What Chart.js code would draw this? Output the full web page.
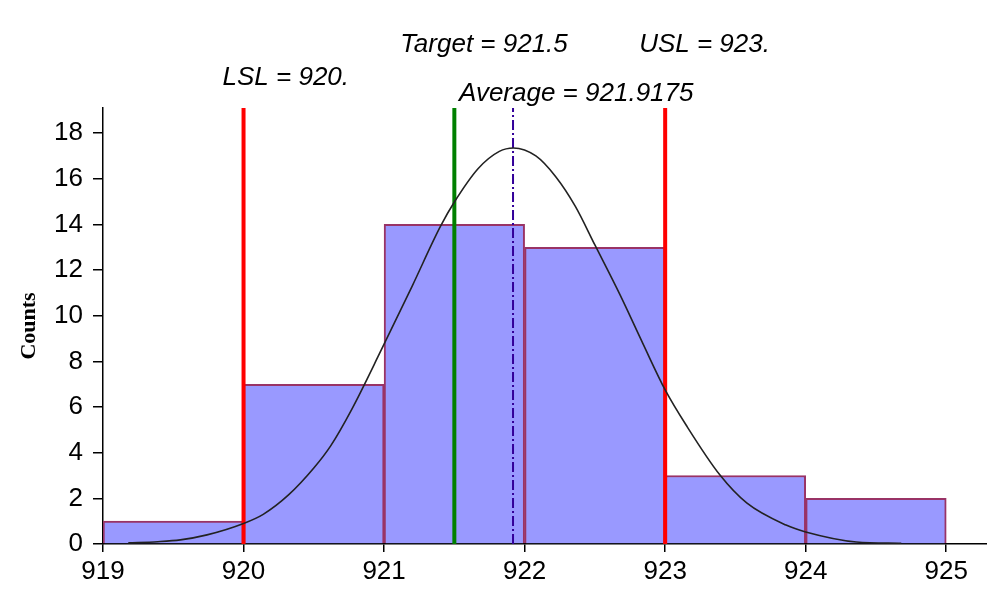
<!DOCTYPE html>
<html>
<head>
<meta charset="utf-8">
<script src="https://cdn.jsdelivr.net/npm/chart.js@4/dist/chart.umd.min.js"></script>
<style>
  html, body { margin: 0; padding: 0; background: #ffffff; }
  #wrap { width: 987px; height: 589px; }
</style>
</head>
<body>
<div id="wrap"><canvas id="hist" width="987" height="589"></canvas></div>
<script>
// Histogram bins (centres, width 1) and counts
const binCenters = [919.5, 920.5, 921.5, 922.5, 923.5, 924.5];
const binCounts  = [1, 7, 14, 13, 3, 2];

// Fitted distribution curve, sampled points
const curveX = [919.18, 919.39, 919.55, 919.74, 920.0, 920.14, 920.32, 920.5, 920.62, 920.77,
                920.98, 921.2, 921.4, 921.5, 921.67, 921.82, 921.92, 922.08, 922.22, 922.36,
                922.5, 922.68, 922.84, 923.0, 923.15, 923.39, 923.58, 923.86, 924.0, 924.36, 924.68];
const curveY = [0.05, 0.1, 0.18, 0.4, 0.9, 1.3, 2.15, 3.33, 4.3, 5.9,
                8.5, 11.3, 13.9, 14.98, 16.45, 17.2, 17.35, 17.0, 16.1, 14.8,
                13.1, 10.9, 8.8, 6.75, 5.2, 3.02, 1.8, 0.83, 0.53, 0.09, 0.03];

// Specification limits, target and mean
const lsl = 920;
const usl = 923;
const target = 921.5;
const average = 921.9175;
const specLabels = ['LSL = 920.', 'Target = 921.5', 'USL = 923.', 'Average = 921.9175'];

// Axis ranges and tick labels
const xMin = 919, xMax = 925.29;
const yMin = 0, yMax = 19.1;
const xTickValues = [919, 920, 921, 922, 923, 924, 925];
const yTickValues = [0, 2, 4, 6, 8, 10, 12, 14, 16, 18];
const yTitle = 'Counts';

const TICK_FONT = { family: '"Liberation Sans", Arial, sans-serif', size: 26 };

function vline(value, color, width, dash) {
  return {
    type: 'line',
    data: [{ x: value, y: yMin }, { x: value, y: yMax }],
    borderColor: color,
    borderWidth: width,
    borderDash: dash || [],
    pointRadius: 0,
    tension: 0,
    order: 5
  };
}

const labelPlugin = {
  id: 'specLabels',
  afterDraw(chart) {
    const ctx = chart.ctx;
    const xs = chart.scales.x;
    const vals = [lsl, target, usl, average];
    // horizontal offset from the marker line, and text baseline
    const place = [[-21, 85], [-54, 52], [-26, 52], [-54, 101]];
    ctx.save();
    ctx.fillStyle = '#000000';
    ctx.font = 'italic 26px "Liberation Sans", Arial, sans-serif';
    ctx.textAlign = 'left';
    ctx.textBaseline = 'alphabetic';
    specLabels.forEach((t, i) => {
      ctx.fillText(t, xs.getPixelForValue(vals[i]) + place[i][0], place[i][1]);
    });
    ctx.restore();
  }
};

new Chart(document.getElementById('hist'), {
  data: {
    datasets: [
      {
        type: 'line',
        data: curveX.map((x, i) => ({ x, y: curveY[i] })),
        borderColor: '#222222',
        borderWidth: 1.6,
        pointRadius: 0,
        cubicInterpolationMode: 'monotone',
        order: 1
      },
      vline(lsl, '#ff0000', 4),
      vline(usl, '#ff0000', 4),
      vline(target, '#008000', 4),
      vline(average, '#330099', 2, [10, 3, 2, 3]),
      {
        type: 'bar',
        data: binCenters.map((x, i) => ({ x, y: binCounts[i] })),
        backgroundColor: '#9999ff',
        borderColor: '#993366',
        borderWidth: 2,
        borderSkipped: 'start',
        barPercentage: 1,
        categoryPercentage: 1,
        order: 10
      }
    ]
  },
  options: {
    responsive: false,
    animation: false,
    events: [],
    layout: { padding: { top: 108, right: 0, bottom: 0, left: 0 } },
    plugins: { legend: { display: false }, tooltip: { enabled: false } },
    scales: {
      x: {
        type: 'linear',
        offset: false,
        min: xMin,
        max: xMax,
        ticks: { stepSize: 1, color: '#000000', font: TICK_FONT, padding: 4, maxRotation: 0, autoSkip: false },
        afterBuildTicks(s) { s.ticks = xTickValues.map(v => ({ value: v })); },
        afterFit(s) { s.height = 45; },
        grid: { offset: false, drawOnChartArea: false, drawTicks: true, tickLength: 8, color: '#000000', lineWidth: 1.5 },
        border: { display: true, color: '#000000', width: 1.5 }
      },
      y: {
        type: 'linear',
        min: yMin,
        max: yMax,
        ticks: { stepSize: 2, color: '#000000', font: TICK_FONT, padding: 10 },
        afterBuildTicks(s) { s.ticks = yTickValues.map(v => ({ value: v })); },
        afterFit(s) { s.width = 103; },
        grid: { drawOnChartArea: false, drawTicks: true, tickLength: 10, color: '#000000', lineWidth: 1.5 },
        border: { display: true, color: '#000000', width: 1.5 },
        title: {
          display: true,
          text: yTitle,
          color: '#000000',
          font: { family: '"Liberation Serif", "Times New Roman", serif', size: 22, weight: 'bold' },
          padding: { top: 16, bottom: 0 }
        }
      }
    }
  },
  plugins: [labelPlugin]
});
</script>
</body>
</html>
